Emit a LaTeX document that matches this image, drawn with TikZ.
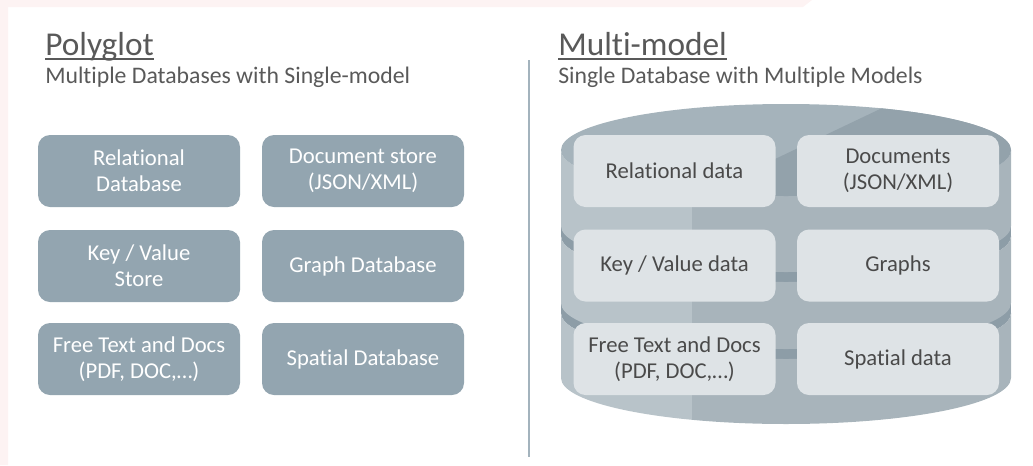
\documentclass[tikz,border=0pt]{standalone}
\usepackage{fontspec}
\setmainfont{Carlito}[Ligatures=NoCommon]
\usepackage{tikz}

\definecolor{boxgrey}{HTML}{93A5B0}
\definecolor{cellgrey}{HTML}{DEE3E6}
\definecolor{titlegrey}{HTML}{595959}
\definecolor{textgrey}{HTML}{4A4A4A}
\definecolor{rulegrey}{HTML}{A3B3BD}
\definecolor{sidelight}{HTML}{B8C3C9}
\definecolor{sidedark}{HTML}{A8B4BB}
\definecolor{toplight}{HTML}{A5B3BB}
\definecolor{topdark}{HTML}{93A2AB}
\definecolor{seamdark}{HTML}{8D9DA7}
\definecolor{pinkbg}{HTML}{FDF3F3}

\newcommand\headfont{\fontsize{25}{30}\selectfont}
\newcommand\subfont{\fontsize{17.8}{21}\selectfont}
\newcommand\boxfont{\fontsize{17}{19.3}\selectfont}

% side of one tier of the cylinder: #1 top centre y, #2 bottom centre y
\newcommand\tierside[2]{%
  \begin{scope}
    \clip (561,#1) -- (561,#2) arc[start angle=180, end angle=360, x radius=168.75pt, y radius=34.5pt]
      -- (1011,#1) arc[start angle=0, end angle=-180, x radius=168.75pt, y radius=34.5pt] -- cycle;
    \fill[sidelight] (550,#1-60) rectangle (692,#2+60);
    \fill[sidedark] (692,#1-60) rectangle (1020,#2+60);
  \end{scope}}
% dark top face of a lower tier, seen in the gap
\newcommand\tierseam[1]{%
  \fill[seamdark] (786,#1) ellipse[x radius=168.75pt, y radius=34.5pt];
  \fill[seamdark] (561,#1-10) rectangle (1011,#1);}

\tikzset{
  polybox/.style={fill=boxgrey, text=white, rounded corners=9pt, minimum width=151.5pt,
    minimum height=54pt, align=center, font=\boxfont, inner sep=0pt},
  cellbox/.style={polybox, fill=cellgrey, text=textgrey},
  heading/.style={anchor=base west, inner sep=0pt, text=titlegrey, font=\headfont},
  subheading/.style={heading, font=\subfont},
}

\begin{document}
\begin{tikzpicture}[x=0.75pt,y=-0.75pt]
  \useasboundingbox (0,0) rectangle (1033,465);
  % faint slide edge
  \fill[pinkbg] (0,0) -- (812,0) -- (803,7) -- (8,7) -- (8,465) -- (0,465) -- cycle;

  % Headings
  \node[heading] (polyTitle) at (45,55) {Polyglot};
  \draw[titlegrey, line width=1.6pt] ([yshift=-3pt]polyTitle.base west) -- ([yshift=-3pt]polyTitle.base east);
  \node[subheading] (polySub) at (45,83) {Multiple Databases with Single-model};
  \node[heading] (multiTitle) at (558,55) {Multi-model};
  \draw[titlegrey, line width=1.6pt] ([yshift=-3pt]multiTitle.base west) -- ([yshift=-3pt]multiTitle.base east);
  \node[subheading] (multiSub) at (558,83) {Single Database with Multiple Models};

  % Divider
  \coordinate (divTop) at (529,60);
  \coordinate (divBot) at (529,457);
  \draw[rulegrey, line width=1.5pt] (divTop) -- (divBot);

  % Polyglot side
  \node[polybox] (polyRel) at (139,171) {Relational\\Database};
  \node[polybox] (polyDoc) at (363,171) {Document store\\(JSON/XML)};
  \node[polybox] (polyKV) at (139,266) {Key / Value\\Store};
  \node[polybox] (polyGraph) at (363,266) {Graph Database};
  \node[polybox] (polyText) at (139,359) {Free Text and Docs\\(PDF, DOC,\dots)};
  \node[polybox] (polySpatial) at (363,359) {Spatial Database};

  % Cylinder, bottom tier first
  \tierseam{313}
  \tierside{313}{378}
  \tierseam{236}
  \tierside{236}{303}
  \tierside{150}{226}
  \begin{scope}
    \clip (786,150) ellipse[x radius=168.75pt, y radius=34.5pt];
    \fill[toplight] (550,90) rectangle (1020,210);
    \fill[topdark] (920,90) -- (1020,90) -- (1020,210) -- (668,210) -- cycle;
  \end{scope}

  % Multi-model cells
  \node[cellbox] (cellRel) at (674.5,171) {Relational data};
  \node[cellbox] (cellDoc) at (898,171) {Documents\\(JSON/XML)};
  \node[cellbox] (cellKV) at (674.5,265.5) {Key / Value data};
  \node[cellbox] (cellGraph) at (898,265.5) {Graphs};
  \node[cellbox] (cellText) at (674.5,359) {Free Text and Docs\\(PDF, DOC,\dots)};
  \node[cellbox] (cellSpatial) at (898,359) {Spatial data};
\end{tikzpicture}
\end{document}
